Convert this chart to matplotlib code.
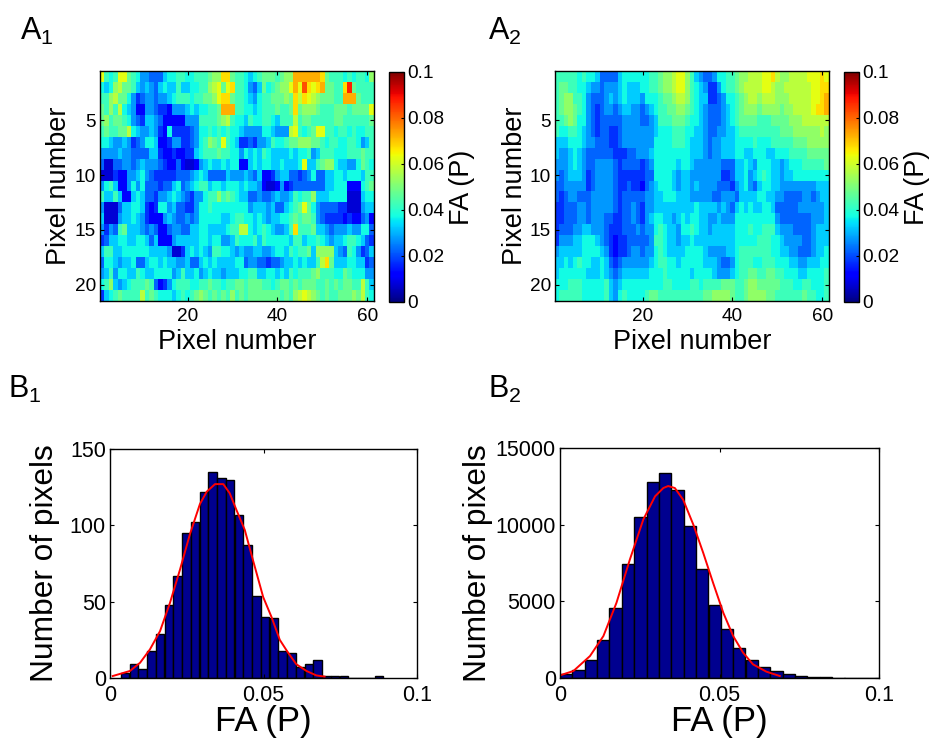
import numpy as np
import matplotlib
matplotlib.use("Agg")
from matplotlib import pyplot as plt

plt.rcParams['font.family'] = ['Liberation Sans', 'DejaVu Sans']
plt.rcParams['mathtext.default'] = 'regular'

# heatmap cells, one character per pixel, base 36, 1 step = 0.005 FA
FA_STEP = 0.005
a1_rows = [
    "c878cc9875 5444677887 78889aadd9 8876789998 9aaeeeeeed 9888787887 a",
    "767ab99865 6546766866 7788abc9cd 8875469789 aacecgdcde 9988dh9888 8",
    "88ab997534 5545567888 78899acdd9 8876578899 9a9dbdcba9 9988eee988 8",
    "98a8b76522 5543325556 7677889eee 8877678889 889d9aaa98 8899989999 c",
    "9a89987543 6654222225 5588889ab8 7768778876 888b899888 8899888888 9",
    "898899b765 5653273333 4577878787 7655557765 55bc8789cc 8878878778 8",
    "7765565345 7762235533 4578a98c87 6334355687 7899aaa998 7887788756 8",
    "5555655444 4663223223 3678889887 7576768766 6676778568 8877788898 8",
    "4114455456 5554322421 1256766767 7226767766 76667c6689 aa76655798 7",
    "1113225567 5433333444 5676444465 5565462235 6644345744 6677677768 8",
    "5786225757 4443446745 6788677677 7676652112 5234444444 6677722278 9",
    "8668622676 4435567654 355788a898 7664454456 5568788a66 6777711167 7",
    "5111466776 3237756443 3577877777 7775666564 46789c9754 4443311156 6",
    "6111566765 3222565445 4577777667 8877676566 7789899854 3333232245 2",
    "5354896665 4542245544 6677666678 8bb7678765 568d888966 5455565577 4",
    "3466776677 6462225666 6677677556 8777868777 7768867787 6566788764 3",
    "6886677777 7666651136 7676588776 5655665567 76878896aa aa65487534 6",
    "4776566744 6776766556 4467676666 7745544344 566767668b d966677663 4",
    "5685776687 6677775686 6756766566 6778866776 76878889a8 8877987775 5",
    "78a6567888 9842357888 7788988788 9989998878 9989899988 98989988b8 6",
    "367898888b 8987776787 89a989898a 8989999999 898abcba98 988999a9b8 7",
]
a2_rows = [
    "8888878776 4444677777 7889aabcca 8654457788 9aabbbccdb aabbbbcccd c",
    "8998877655 4555676667 7889aabcca 8765335788 9abbbbccba abbbbbbccd d",
    "89aa887544 4565676665 777899abba 8766334577 89abbabbba aabbbbbccd e",
    "89aa987543 4554566554 5678899aa9 8765444567 89aaa9aaaa 9aabbbbcdd e",
    "889a977543 4444455554 4568889998 7765444567 8999988899 99aaabbbbb b",
    "8778876543 4433455555 5567778887 7665445566 7888888888 999aaaaaab a",
    "6667776554 4433455555 5577778887 6665455666 7777877788 888999aaaa a",
    "6556765444 4443334455 5677777777 6665455666 7766777667 7788889999 9",
    "5556765445 5554344443 4577777677 6555555444 6676577766 5677788888 9",
    "5456665345 5554333333 4477776566 5555555334 6675678766 5667777777 7",
    "4455555345 5554334332 4567776566 5655554443 5675467766 5555555566 6",
    "4345544455 5554344444 5566777666 5555544555 4666677665 5444455456 6",
    "3344455455 5554344543 5566666666 6766665654 6767667764 4444555555 6",
    "3344455455 5443344543 5677665676 7766556555 7777777775 4444444555 6",
    "3444556655 5433344454 5578766577 8766566666 7778778886 5554444566 6",
    "3555667776 5432334444 4588766566 7666666666 7777788877 6555544566 6",
    "5666667777 6532334554 5578766667 7776555566 7888888877 6655444566 7",
    "6676787766 7643455555 5678877677 7776665445 7888778887 7766556667 7",
    "6777777666 7654566666 6777877777 6777765556 7889988998 8777667777 8",
    "7778887777 7865677777 7777887777 8878888999 889aa99999 8887788777 8",
    "7888887777 7865787777 8998888888 88899aaaa9 889aaaa998 8888898877 8",
]

# histogram B1
b1_centers = [.0049, .0078, .0106, .0135, .0163, .0192, .0220, .0249, .0277, .0306,
              .0334, .0363, .0391, .0420, .0448, .0477, .0505, .0534, .0562, .0591,
              .0619, .0648, .0676, .0705, .0733, .0762, .0790, .0819, .0847, .0876]
b1_counts = [3, 9, 6, 18, 29, 48, 67, 95, 102, 122, 135, 131, 130, 107, 87, 54, 40, 39,
             18, 16.5, 7, 9, 11.5, 1, 1, 1, 0, 0, 0, 1.5]
b1_fit_x = [.0009, .0065, .0098, .0130, .0163, .0195, .0228, .0260, .0293, .0315, .0342, .0369,
            .0390, .0412, .0439, .0466, .0499, .0526, .0553, .0580, .0607, .0640, .0672, .0699]
b1_fit_y = [1.3, 4.6, 10, 18.7, 30.7, 49, 71, 94, 114, 122, 127, 127,
            121, 110, 97, 77, 53, 40, 25, 16.6, 9, 4.6, 1.7, 0.9]

# histogram B2
b2_centers = [.0019, .0058, .0097, .0135, .0174, .0213, .0252, .0291, .0329, .0368, .0407, .0446, .0485,
              .0523, .0562, .0601, .0640, .0679, .0717, .0756, .0795, .0834, .0873, .0911, .0950, .0989]
b2_counts = [240, 520, 1150, 2450, 4580, 7440, 10480, 12780, 13370, 12260, 9940, 7120, 4770,
             3170, 1930, 1200, 720, 450, 240, 150, 65, 40, 25, 15, 10, 5]
b2_fit_x = [0, .0042, .0094, .0136, .0177, .0219, .0261, .0298, .0324, .0339, .0360,
            .0386, .0418, .0449, .0480, .0512, .0543, .0574, .0605, .0647, .0689]
b2_fit_y = [174, 456, 1432, 2734, 4904, 7725, 10330, 11850, 12390, 12520, 12390,
            11630, 10000, 8160, 6200, 4250, 2730, 1650, 890, 412, 130]

W, H = 933, 743


def px_axes(fig, left, top, right, bottom):
    # axes from pixel box of the reference
    return fig.add_axes([left / W, 1 - bottom / H, (right - left) / W, (bottom - top) / H])


def decode(rows):
    # middle of each step
    return np.array([[(int(c, 36) + 0.5) * FA_STEP for c in r.replace(" ", "")] for r in rows])


def style_axes(ax, size):
    ax.tick_params(direction='in', top=True, right=True, length=3, width=0.8, labelsize=size, pad=3)
    ax.tick_params(axis='x', pad=5)
    for s in ax.spines.values():
        s.set_linewidth(1.0)


def heatmap(fig, rows, box, cbox):
    ax = px_axes(fig, *box)
    im = ax.imshow(decode(rows), cmap='jet', vmin=0, vmax=0.1, aspect='auto',
                   interpolation='nearest', extent=[0.5, 61.5, 21.5, 0.5])
    ax.set_xticks([20, 40, 60])
    ax.set_yticks([5, 10, 15, 20])
    style_axes(ax, 13.7)
    ax.set_xlabel("Pixel number", fontsize=19.5, labelpad=3)
    ax.set_ylabel("Pixel number", fontsize=19.5, labelpad=1.5)
    cax = px_axes(fig, *cbox)
    cb = fig.colorbar(im, cax=cax, ticks=[0, 0.02, 0.04, 0.06, 0.08, 0.1])
    cb.ax.set_yticklabels(["0", "0.02", "0.04", "0.06", "0.08", "0.1"])
    cb.ax.tick_params(direction='in', length=2, width=0.8, labelsize=13.7, pad=2)
    cb.outline.set_linewidth(1.0)
    cb.set_label("FA (P)", fontsize=19.5, labelpad=4)


def histogram(fig, centers, counts, width, fit_x, fit_y, ymax, yticks, box, ypad):
    ax = px_axes(fig, *box)
    ax.bar(centers, counts, width=width, color='#00008f', edgecolor='black', linewidth=1.0)
    ax.plot(fit_x, fit_y, color='red', linewidth=1.4)
    ax.set_xlim(0, 0.1)
    ax.set_ylim(0, ymax)
    ax.set_xticks([0, 0.05, 0.1])
    ax.set_xticklabels(["0", "0.05", "0.1"])
    ax.set_yticks(yticks)
    style_axes(ax, 15.5)
    ax.set_xlabel("FA (P)", fontsize=25, labelpad=-1)
    ax.set_ylabel("Number of pixels", fontsize=22.8, labelpad=ypad, y=0.5)


fig = plt.figure(figsize=(W / 100, H / 100), dpi=100)

heatmap(fig, a1_rows, (100, 71, 374, 301), (389, 72, 404, 302))
heatmap(fig, a2_rows, (555, 71, 829, 301), (844, 72, 859, 302))
histogram(fig, b1_centers, b1_counts, 0.00285, b1_fit_x, b1_fit_y, 150,
          [0, 50, 100, 150], (110, 449, 417, 678), 7)
histogram(fig, b2_centers, b2_counts, 0.00388, b2_fit_x, b2_fit_y, 15000,
          [0, 5000, 10000, 15000], (560, 448, 879, 678), 2)

for label, x, y in [("A_1", 20, 40), ("A_2", 488, 40), ("B_1", 8, 398), ("B_2", 488, 398)]:
    fig.text(x / W, 1 - y / H, "$%s$" % label, fontsize=22, color='black')

plt.savefig("out.png", dpi=100)
